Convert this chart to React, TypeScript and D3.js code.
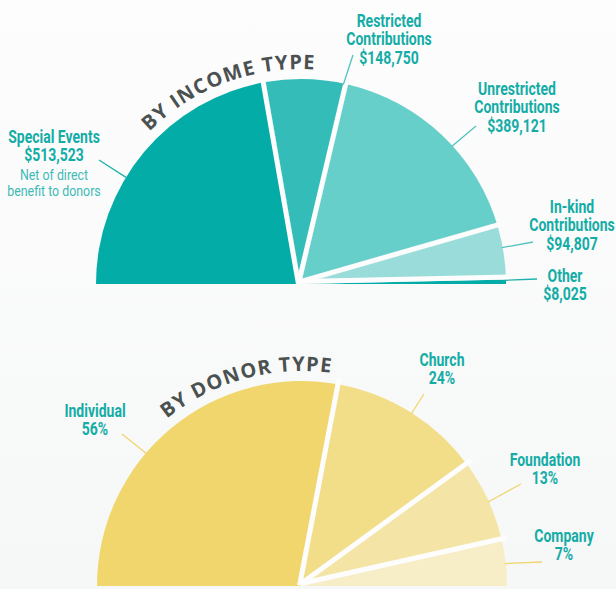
import React from "react";
import * as d3 from "d3";

// income by type ($)
const incomeCategories = [
  "Special Events",
  "Restricted Contributions",
  "Unrestricted Contributions",
  "In-kind Contributions",
  "Other",
];
const incomeValues = [513523, 148750, 389121, 94807, 8025];
const incomeLabelLines = [
  ["Special Events"],
  ["Restricted", "Contributions"],
  ["Unrestricted", "Contributions"],
  ["In-kind", "Contributions"],
  ["Other"],
];
const incomeNotes = [["Net of direct", "benefit to donors"], [], [], [], []];

// donors by type (%)
const donorCategories = ["Individual", "Church", "Foundation", "Company"];
const donorValues = [56, 24, 13, 7];

const incomeColors = ["#03aca7", "#34bdb8", "#67cfca", "#9adcd9", "#05aca7"];
const donorColors = ["#f0d66d", "#f2dd88", "#f4e5a7", "#f7edc6"];

// label layout: text centre x, first baseline y, leader outer end, leader angle nudge (deg)
const incomeLayout = [
  { x: 54, y: 143, lx: 99, ly: 160, nudge: -8.7 },
  { x: 389, y: 27, lx: 353, ly: 55, nudge: 10.3 },
  { x: 517, y: 95, lx: 476, ly: 126, nudge: 4 },
  { x: 572, y: 213, lx: 533, ly: 242, nudge: -1.6 },
  { x: 565, y: 282, lx: 537, ly: 279, nudge: -0.4 },
];
const donorLayout = [
  { x: 95, y: 417, lx: 122, ly: 434, nudge: -10 },
  { x: 442, y: 366, lx: 424, ly: 394, nudge: 0 },
  { x: 545, y: 466, lx: 521, ly: 484, nudge: 0 },
  { x: 564, y: 542, lx: 542, ly: 562, nudge: 0 },
];

const W = 616;
const H = 589;
const R = 205;
const GAP = 5;
const LABEL_FONT = "Roboto, 'Liberation Sans', sans-serif";
const TITLE_FONT = "'Open Sans', 'DejaVu Sans', sans-serif";
const TEAL = "#14aca6";
const SQUEEZE = 0.8;

const pie = d3
  .pie<number>()
  .sort(null)
  .startAngle(-Math.PI / 2)
  .endAngle(Math.PI / 2)
  .value((d) => d);

const arc = d3.arc<d3.PieArcDatum<number>>().innerRadius(0).outerRadius(R);

// condensed label text: the reference uses a narrow face, so squeeze horizontally
const Condensed: React.FC<{
  x: number;
  y: number;
  size: number;
  weight: number;
  fill: string;
  children: string;
}> = ({ x, y, size, weight, fill, children }) => (
  <text
    transform={`translate(${x},${y}) scale(${SQUEEZE},1)`}
    textAnchor="middle"
    fontFamily={LABEL_FONT}
    fontSize={size}
    fontWeight={weight}
    fill={fill}
  >
    {children}
  </text>
);

interface HalfPieProps {
  id: string;
  cx: number;
  cy: number;
  values: number[];
  names: string[];
  colors: string[];
  lines: string[][];
  notes: string[][];
  valueText: (v: number) => string;
  layout: { x: number; y: number; lx: number; ly: number; nudge: number }[];
  leaderColor: (i: number) => string;
  title: string;
  titleAngle: number;
}

const HalfPie: React.FC<HalfPieProps> = ({
  id,
  cx,
  cy,
  values,
  names,
  colors,
  lines,
  notes,
  valueText,
  layout,
  leaderColor,
  title,
  titleAngle,
}) => {
  const arcs = pie(values);
  const titleR = 215;
  const titlePath = `M${cx - titleR},${cy} A${titleR},${titleR} 0 0 1 ${cx + titleR},${cy}`;
  const titleOffset = ((titleAngle + 90) / 180) * Math.PI * titleR;

  return (
    <g>
      <g transform={`translate(${cx},${cy})`}>
        {arcs.map((a, i) => (
          <path key={names[i]} d={arc(a) || ""} fill={colors[i]} />
        ))}
        {/* gaps between slices, kept on the earlier slice's side */}
        {arcs.slice(0, -1).map((a) => {
          const ang = a.endAngle;
          const ox = -(GAP / 2) * Math.cos(ang);
          const oy = -(GAP / 2) * Math.sin(ang);
          return (
            <line
              key={"gap" + a.index}
              x1={ox}
              y1={oy}
              x2={ox + (R + 6) * Math.sin(ang)}
              y2={oy - (R + 6) * Math.cos(ang)}
              stroke="url(#bg)"
              strokeWidth={GAP}
            />
          );
        })}
      </g>

      {/* leaders */}
      {arcs.map((a, i) => {
        const l = layout[i];
        const mid = (a.startAngle + a.endAngle) / 2 + (l.nudge * Math.PI) / 180;
        return (
          <line
            key={"lead" + i}
            x1={cx + (R - 1) * Math.sin(mid)}
            y1={cy - (R - 1) * Math.cos(mid)}
            x2={l.lx}
            y2={l.ly}
            stroke={leaderColor(i)}
            strokeWidth={1.3}
          />
        );
      })}

      {/* labels */}
      {arcs.map((a, i) => {
        const l = layout[i];
        const rows = [...lines[i], valueText(values[i])];
        const last = l.y + (rows.length - 1) * 18.3;
        return (
          <g key={"lab" + i}>
            {rows.map((t, j) => (
              <Condensed key={j} x={l.x} y={l.y + j * 18.3} size={17.5} weight={700} fill={TEAL}>
                {t}
              </Condensed>
            ))}
            {notes[i].map((t, j) => (
              <Condensed key={"n" + j} x={l.x} y={last + 19 + j * 15.5} size={15.5} weight={400} fill="#3fbab5">
                {t}
              </Condensed>
            ))}
          </g>
        );
      })}

      <path id={id} d={titlePath} fill="none" />
      <text
        fontFamily={TITLE_FONT}
        fontWeight={700}
        fontSize={20}
        letterSpacing={1.2}
        fill="#4b5150"
      >
        <textPath href={`#${id}`} startOffset={titleOffset} textAnchor="middle">
          {title}
        </textPath>
      </text>
    </g>
  );
};

const fmtDollar = d3.format("$,");

export default function App() {
  return (
    <div style={{ position: "absolute", left: 0, top: 0 }}>
      <svg width={W} height={H} style={{ display: "block" }}>
        <defs>
          <linearGradient id="bg" gradientUnits="userSpaceOnUse" x1={0} y1={0} x2={0} y2={H}>
            <stop offset="0" stopColor="#fdfdfd" />
            <stop offset="1" stopColor="#f6f7f7" />
          </linearGradient>
        </defs>
        <rect width={W} height={H} fill="url(#bg)" />
        <HalfPie
          id="incomeTitle"
          cx={301}
          cy={284}
          values={incomeValues}
          names={incomeCategories}
          colors={incomeColors}
          lines={incomeLabelLines}
          notes={incomeNotes}
          valueText={(v) => fmtDollar(v)}
          layout={incomeLayout}
          leaderColor={(i) => (i === 0 || i === 4 ? "#1fb1ac" : "#4fc4bf")}
          title="BY INCOME TYPE"
          titleAngle={-20.5}
        />
        <HalfPie
          id="donorTitle"
          cx={302}
          cy={586}
          values={donorValues}
          names={donorCategories}
          colors={donorColors}
          lines={donorCategories.map((c) => [c])}
          notes={donorCategories.map(() => [])}
          valueText={(v) => `${v}%`}
          layout={donorLayout}
          leaderColor={() => "#f0d66d"}
          title="BY DONOR TYPE"
          titleAngle={-15.5}
        />
      </svg>
    </div>
  );
}
